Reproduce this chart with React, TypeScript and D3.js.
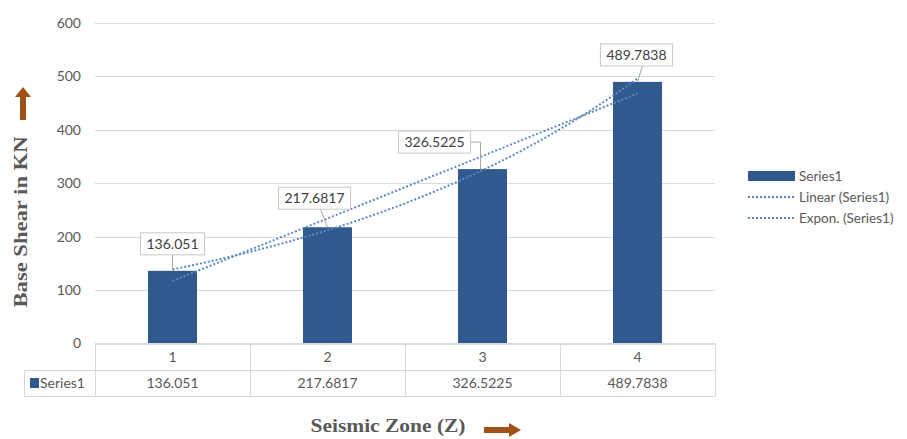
import { useEffect, useRef } from 'react';
import * as d3 from 'd3';

const categories = ['1', '2', '3', '4'];
const seriesName = 'Series1';
const values = [136.051, 217.6817, 326.5225, 489.7838];
const valueLabels = ['136.051', '217.6817', '326.5225', '489.7838'];
const yTicks = [0, 100, 200, 300, 400, 500, 600];
const legendItems = ['Series1', 'Linear (Series1)', 'Expon. (Series1)'];

// where each data label sits, relative to the top centre of its bar
const labelOffsets = [
  { dx: 0, dy: -27, leader: 'straight' },
  { dx: -13, dy: -29, leader: 'straight' },
  { dx: -48, dy: -27, leader: 'elbow' },
  { dx: -1, dy: -27, leader: 'straight' },
];

const W = 907;
const H = 439;
const barColor = '#305a8e';
const trendColor = '#5d89c0';
const gridColor = '#d9d9d9';
const textColor = '#595959';
const arrowColor = '#9e5218';
const font = 'Lato, "Open Sans", sans-serif';
const serif = '"Liberation Serif", "DejaVu Serif", serif';

export default function App() {
  const svgRef = useRef<SVGSVGElement>(null);

  useEffect(() => {
    if (!svgRef.current) return;
    const svg = d3.select(svgRef.current);
    svg.selectAll('*').remove();

    const plot = { left: 95, right: 715, top: 23, bottom: 343.5 };

    const x = d3.scaleBand().domain(categories).range([plot.left, plot.right]);
    const y = d3.scaleLinear().domain([0, 600]).range([plot.bottom, plot.top]);
    const barW = x.bandwidth() * 0.316;
    const cx = (c: string) => (x(c) || 0) + x.bandwidth() / 2;

    // gridlines
    svg
      .append('g')
      .selectAll('line')
      .data(yTicks)
      .join('line')
      .attr('x1', plot.left)
      .attr('x2', plot.right)
      .attr('y1', d => Math.round(y(d)) + 0.5)
      .attr('y2', d => Math.round(y(d)) + 0.5)
      .attr('stroke', gridColor)
      .attr('stroke-width', 1);

    svg
      .append('g')
      .selectAll('text')
      .data(yTicks)
      .join('text')
      .attr('x', 81)
      .attr('y', d => y(d))
      .attr('dy', '0.35em')
      .attr('text-anchor', 'end')
      .style('font-family', font)
      .style('font-size', '14px')
      .style('fill', textColor)
      .text(d => d);

    // bars
    svg
      .append('g')
      .selectAll('rect')
      .data(values)
      .join('rect')
      .attr('x', (d, i) => cx(categories[i]) - barW / 2)
      .attr('y', d => y(d))
      .attr('width', barW)
      .attr('height', d => y(0) - y(d))
      .attr('fill', barColor);

    // trendlines, fitted to the series
    const xs = values.map((_, i) => i + 1);
    const xMean = d3.mean(xs) || 0;
    const sxx = d3.sum(xs, v => (v - xMean) ** 2);
    const yMean = d3.mean(values) || 0;
    const slope = d3.sum(xs, (v, i) => (v - xMean) * (values[i] - yMean)) / sxx;
    const intercept = yMean - slope * xMean;
    const logs = values.map(v => Math.log(v));
    const lMean = d3.mean(logs) || 0;
    const lSlope = d3.sum(xs, (v, i) => (v - xMean) * (logs[i] - lMean)) / sxx;
    const lIntercept = lMean - lSlope * xMean;

    const tx = (t: number) => cx(categories[0]) + (t - 1) * x.bandwidth();
    const ts = d3.range(1, 4.0001, 0.05);
    const line = d3
      .line<number>()
      .x(t => tx(t))
      .y(t => y(t));

    const linearPath = d3
      .line<number>()
      .x(t => tx(t))
      .y(t => y(intercept + slope * t));
    const expPath = d3
      .line<number>()
      .x(t => tx(t))
      .y(t => y(Math.exp(lIntercept + lSlope * t)));
    void line;

    [linearPath(ts), expPath(ts)].forEach(p => {
      svg
        .append('path')
        .attr('d', p || '')
        .attr('fill', 'none')
        .attr('stroke', trendColor)
        .attr('stroke-width', 2)
        .attr('stroke-dasharray', '2 2');
    });

    // data labels with leader lines
    const labels = svg.append('g');
    values.forEach((v, i) => {
      const bx = cx(categories[i]);
      const by = y(v);
      const off = labelOffsets[i];
      const lx = bx + off.dx;
      const ly = by + off.dy;
      const g = labels.append('g');
      const rect = g.append('rect');
      const text = g
        .append('text')
        .attr('x', lx)
        .attr('y', ly)
        .attr('dy', '0.35em')
        .attr('text-anchor', 'middle')
        .style('font-family', font)
        .style('font-size', '14px')
        .style('fill', '#404040')
        .text(valueLabels[i]);
      const tw = (text.node() as SVGTextElement).getComputedTextLength();
      const bw = tw + 12;
      const bh = 22;
      rect
        .attr('x', lx - bw / 2)
        .attr('y', ly - bh / 2)
        .attr('width', bw)
        .attr('height', bh)
        .attr('fill', '#fff')
        .attr('stroke', '#c8c8c8')
        .attr('stroke-width', 1);
      if (off.leader === 'elbow') {
        const ex = bx - 2;
        g.insert('path', 'rect')
          .attr('d', `M${lx + bw / 2},${ly} H${ex} V${by}`)
          .attr('fill', 'none')
          .attr('stroke', '#a6a6a6');
      } else {
        const sx = lx + (off.dx === 0 ? 0 : 6);
        g.insert('path', 'rect')
          .attr('d', `M${sx},${ly + bh / 2} L${bx},${by}`)
          .attr('fill', 'none')
          .attr('stroke', '#a6a6a6');
      }
    });

    // data table
    const row1 = plot.bottom;
    const row2 = 370;
    const row3 = 396;
    const table = svg.append('g').attr('stroke', gridColor).attr('stroke-width', 1);
    table.append('line').attr('x1', plot.left).attr('x2', plot.right).attr('y1', row1).attr('y2', row1);
    table.append('line').attr('x1', 24).attr('x2', plot.right).attr('y1', row2 + 0.5).attr('y2', row2 + 0.5);
    table.append('line').attr('x1', 24).attr('x2', plot.right).attr('y1', row3 + 0.5).attr('y2', row3 + 0.5);
    table.append('line').attr('x1', 24.5).attr('x2', 24.5).attr('y1', row2).attr('y2', row3);
    const bounds = [...categories.map(c => x(c) || 0), plot.right];
    table
      .selectAll('line.v')
      .data(bounds)
      .join('line')
      .attr('class', 'v')
      .attr('x1', d => Math.round(d) + 0.5)
      .attr('x2', d => Math.round(d) + 0.5)
      .attr('y1', row1)
      .attr('y2', row3);

    svg
      .append('g')
      .selectAll('text')
      .data(categories)
      .join('text')
      .attr('x', d => cx(d))
      .attr('y', (row1 + row2) / 2)
      .attr('dy', '0.35em')
      .attr('text-anchor', 'middle')
      .style('font-family', font)
      .style('font-size', '14px')
      .style('fill', textColor)
      .text(d => d);

    svg
      .append('g')
      .selectAll('text')
      .data(valueLabels)
      .join('text')
      .attr('x', (d, i) => cx(categories[i]))
      .attr('y', (row2 + row3) / 2)
      .attr('dy', '0.35em')
      .attr('text-anchor', 'middle')
      .style('font-family', font)
      .style('font-size', '14px')
      .style('fill', textColor)
      .text(d => d);

    svg
      .append('rect')
      .attr('x', 30)
      .attr('y', 378)
      .attr('width', 9)
      .attr('height', 10)
      .attr('fill', barColor);
    svg
      .append('text')
      .attr('x', 40)
      .attr('y', (row2 + row3) / 2)
      .attr('dy', '0.35em')
      .style('font-family', font)
      .style('font-size', '14px')
      .style('fill', textColor)
      .text(seriesName);

    // legend
    const legendY = [176, 197, 218];
    const legend = svg.append('g');
    legend
      .append('rect')
      .attr('x', 748)
      .attr('y', legendY[0] - 5)
      .attr('width', 47)
      .attr('height', 10)
      .attr('fill', barColor);
    [1, 2].forEach(i => {
      legend
        .append('line')
        .attr('x1', 748)
        .attr('x2', 795)
        .attr('y1', legendY[i])
        .attr('y2', legendY[i])
        .attr('stroke', trendColor)
        .attr('stroke-width', 2)
        .attr('stroke-dasharray', '2 2');
    });
    legend
      .selectAll('text')
      .data(legendItems)
      .join('text')
      .attr('x', 799)
      .attr('y', (d, i) => legendY[i])
      .attr('dy', '0.35em')
      .style('font-family', font)
      .style('font-size', '13.5px')
      .style('fill', textColor)
      .text(d => d);

    // axis titles with arrows
    svg
      .append('text')
      .attr('transform', 'translate(27,222) rotate(-90)')
      .attr('text-anchor', 'middle')
      .attr('textLength', 171)
      .attr('lengthAdjust', 'spacingAndGlyphs')
      .style('font-family', serif)
      .style('font-weight', 'bold')
      .style('font-size', '18px')
      .style('fill', textColor)
      .text('Base Shear in KN');
    svg
      .append('path')
      .attr('d', 'M20,120 V97 H15 L23,87 L31,97 H26 V120 Z')
      .attr('fill', arrowColor);

    svg
      .append('text')
      .attr('x', 388)
      .attr('y', 432)
      .attr('text-anchor', 'middle')
      .attr('textLength', 155)
      .attr('lengthAdjust', 'spacingAndGlyphs')
      .style('font-family', serif)
      .style('font-weight', 'bold')
      .style('font-size', '18px')
      .style('fill', textColor)
      .text('Seismic Zone (Z)');
    svg
      .append('path')
      .attr('d', 'M484,427 H509 V423 L521,430 L509,437 V433 H484 Z')
      .attr('fill', arrowColor);
  }, []);

  return (
    <svg
      ref={svgRef}
      width={W}
      height={H}
      style={{ position: 'absolute', left: 0, top: 0, background: '#fff' }}
    />
  );
}
